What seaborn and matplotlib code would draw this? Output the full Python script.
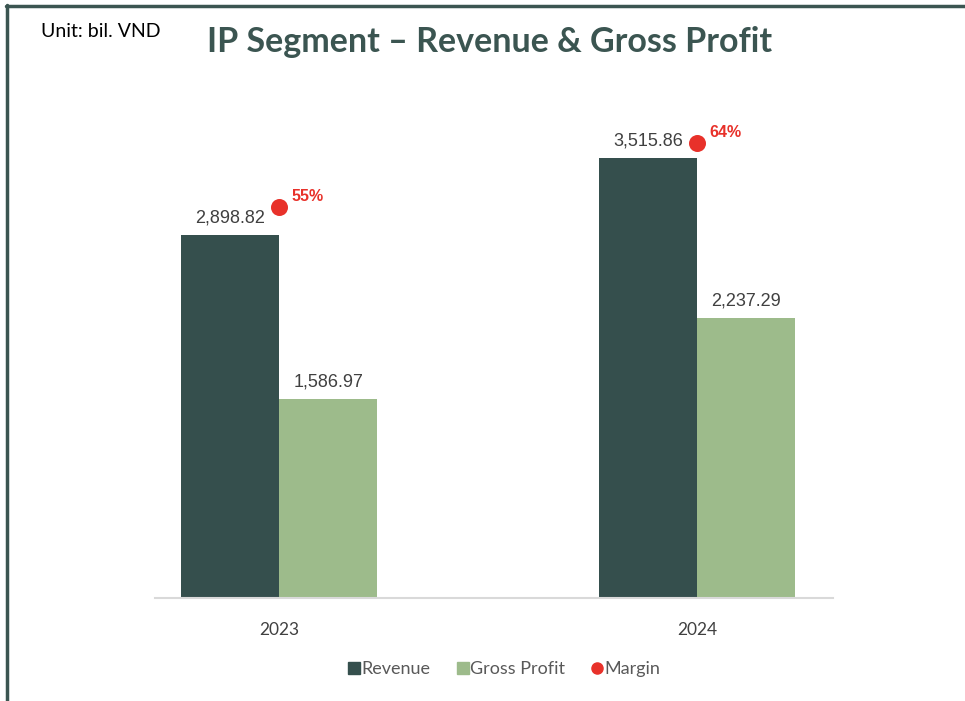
import numpy as np
import pandas as pd
import matplotlib
matplotlib.use("Agg")
import matplotlib.pyplot as plt
import seaborn as sns
from matplotlib.lines import Line2D

years        = ["2023", "2024"]
revenue      = [2898.82, 3515.86]
gross_profit = [1586.97, 2237.29]
margin_pct   = [54.7, 63.6]
margin_text  = ["55%", "64%"]

DARK   = "#354f4d"
LIGHT  = "#9dbb8b"
RED    = "#e8312a"
BORDER = "#3b5551"

df = pd.DataFrame({
    "Year":   years * 2,
    "Value":  revenue + gross_profit,
    "Series": ["Revenue"] * len(years) + ["Gross Profit"] * len(years),
})

sns.set_theme(style="white")
plt.rcParams["font.family"] = ["Lato", "DejaVu Sans"]

fig = plt.figure(figsize=(9.65, 7.01), dpi=100)
ax = fig.add_axes([0.1606, 0.1469, 0.7026, 0.7147])

sns.barplot(data=df, x="Year", y="Value", hue="Series",
            palette=[DARK, LIGHT], width=0.47, linewidth=0, saturation=1,
            ax=ax, legend=False)

ax.set_ylim(0, 4000)
ax.set_xlim(-0.297, 1.325)
ax.set_xlabel("")
ax.set_ylabel("")
ax.set_yticks([])
for s in ["top", "right", "left"]:
    ax.spines[s].set_visible(False)
ax.spines["bottom"].set_color("#d9d9d9")
ax.spines["bottom"].set_linewidth(1.5)
ax.tick_params(axis="x", length=0, pad=17, labelsize=12.5, labelcolor="#404040")

# value labels
for cont in ax.containers:
    ax.bar_label(cont, labels=[f"{v:,.2f}" for v in cont.datavalues],
                 padding=6, fontsize=13, color="#404040",
                 family=["Liberation Sans", "DejaVu Sans"])

# margin on secondary axis
ax2 = ax.twinx()
ax2.set_ylim(0, 70)
ax2.set_yticks([])
for s in ax2.spines.values():
    s.set_visible(False)
xs = np.arange(len(years))
sns.scatterplot(x=xs, y=margin_pct, color=RED, s=150, linewidth=0,
                ax=ax2, zorder=5, legend=False)
for x, m, t in zip(xs, margin_pct, margin_text):
    ax2.annotate(t, (x, m), xytext=(9, 2), textcoords="offset points",
                 color=RED, fontsize=11.5, fontweight="bold",
                 family=["Liberation Sans", "DejaVu Sans"], va="bottom")
ax2.set_xlim(ax.get_xlim())

# titles
fig.text(0.043, 0.955, "Unit: bil. VND", fontsize=14, color="black",
         va="center")
fig.text(0.507, 0.94, "IP Segment \u2013 Revenue & Gross Profit",
         fontsize=24.5, fontweight="bold", color=BORDER, ha="center",
         va="center")

# legend
handles = [
    Line2D([], [], marker="s", linestyle="", color=DARK, markersize=8),
    Line2D([], [], marker="s", linestyle="", color=LIGHT, markersize=8),
    Line2D([], [], marker="o", linestyle="", color=RED, markersize=8),
]
fig.legend(handles, ["Revenue", "Gross Profit", "Margin"], loc="center",
           bbox_to_anchor=(0.52, 0.045), ncol=3, frameon=False,
           fontsize=13, labelcolor="#595959", handletextpad=-0.2,
           handlelength=1.2, columnspacing=1.2)

# frame lines (top and left)
fig.add_artist(Line2D([0.006, 1.0], [0.992, 0.992], color=BORDER,
                      linewidth=2.5, transform=fig.transFigure))
fig.add_artist(Line2D([0.0075, 0.0075], [0.0, 0.993], color=BORDER,
                      linewidth=2.5, transform=fig.transFigure))

fig.savefig("out.png", dpi=100)
